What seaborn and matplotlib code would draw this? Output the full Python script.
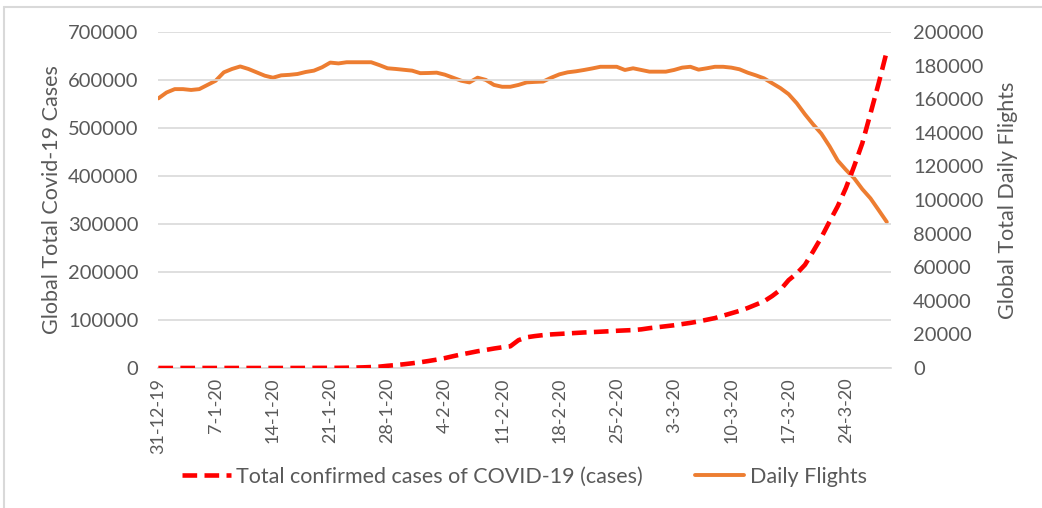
import numpy as np
import pandas as pd
import matplotlib
matplotlib.use('Agg')
import matplotlib.pyplot as plt
import seaborn as sns

# ---- data (one value per day, 31-12-19 .. 29-3-20)
dates = pd.date_range('2019-12-31', '2020-03-29', freq='D')

cases = [27, 27, 27, 44, 44, 59, 59, 59, 59, 59,
         59, 41, 41, 41, 41, 41, 45, 62, 121, 198,
         282, 282, 314, 581, 846, 1320, 2014, 2798, 4593, 6065,
         7818, 9826, 11953, 14557, 17391, 20630, 24554, 28276, 31481, 34886,
         37558, 40554, 43103, 45171, 58000, 64000, 66500, 68500, 70000, 71000,
         72000, 73000, 74000, 74800, 75600, 76500, 77500, 78300, 79000, 80500,
         83000, 85000, 87000, 89000, 91500, 94000, 97000, 100500, 104000, 109000,
         114000, 119000, 125000, 132000, 139000, 150000, 163000, 183000, 197000, 215000,
         243000, 272000, 305000, 337000, 375000, 420000, 468000, 530000, 593000, 660000]

flights = [160500, 164000, 166000, 166000, 165500, 166000, 168500, 171000, 176000, 178000,
           179500, 178000, 176000, 174000, 172800, 174200, 174500, 175000, 176200, 177000,
           179000, 181800, 181300, 182000, 182000, 182000, 182000, 180300, 178400, 178000,
           177500, 177000, 175500, 175600, 175800, 174600, 172800, 171000, 170000, 172800,
           171500, 168500, 167400, 167400, 168500, 170000, 170300, 170500, 172800, 174800,
           176000, 176600, 177400, 178300, 179300, 179300, 179300, 177400, 178400, 177400,
           176400, 176400, 176400, 177400, 178800, 179300, 177600, 178400, 179300, 179300,
           178800, 177800, 175800, 174200, 172400, 169500, 166600, 163000, 157600, 151000,
           145000, 139500, 132000, 123500, 118000, 113000, 106500, 101000, 94000, 86900]

tick_labels = ['31-12-19', '7-1-20', '14-1-20', '21-1-20', '28-1-20', '4-2-20', '11-2-20',
               '18-2-20', '25-2-20', '3-3-20', '10-3-20', '17-3-20', '24-3-20']

df = pd.DataFrame({'day': np.arange(len(dates)), 'cases': cases, 'flights': flights})

sns.set_style('white')
plt.rcParams['font.family'] = ['Lato', 'DejaVu Sans']
txt = '#595959'
grid = '#d9d9d9'

fig = plt.figure(figsize=(10.42, 5.08), dpi=100)
ax = fig.add_axes([0.1516, 0.2756, 0.7034, 0.6614])
ax2 = ax.twinx()

sns.lineplot(data=df, x='day', y='cases', ax=ax, color='#ff0000', lw=3.3,
             label='Total confirmed cases of COVID-19 (cases)', zorder=3)
ax.lines[0].set_dashes((3.2, 1.6))
sns.lineplot(data=df, x='day', y='flights', ax=ax2, color='#ed7d31', lw=2.8,
             label='Daily Flights', zorder=2)

ax.set_zorder(2)
ax.patch.set_visible(False)

ax.set_ylim(0, 700000)
ax.set_yticks(np.arange(0, 700001, 100000))
ax2.set_ylim(0, 200000)
ax2.set_yticks(np.arange(0, 200001, 20000))
ax.set_xlim(-0.05, 89.5)
ax.set_xticks(np.arange(0, 85, 7))
ax.set_xticklabels(tick_labels, rotation=90, fontsize=13, color=txt)

ax.yaxis.grid(True, color=grid, lw=1.2)
ax.set_axisbelow(True)
for a in (ax, ax2):
    for s in a.spines.values():
        s.set_visible(False)
ax.spines['bottom'].set_visible(True)
ax.spines['bottom'].set_color(grid)
ax.spines['bottom'].set_linewidth(1.2)

ax.tick_params(axis='y', length=0, labelsize=14.5, labelcolor=txt, pad=14)
ax2.tick_params(axis='y', length=0, labelsize=14.5, labelcolor=txt, pad=16)
ax.tick_params(axis='x', length=5, width=1.2, color=grid, pad=2)

ax.set_xlabel('')
ax.set_ylabel('Global Total Covid-19 Cases', fontsize=15.5, color=txt, labelpad=4)
ax2.set_ylabel('Global Total Daily Flights', fontsize=15.5, color=txt, labelpad=10)

h1, l1 = ax.get_legend_handles_labels()
h2, l2 = ax2.get_legend_handles_labels()
ax.get_legend().remove()
ax2.get_legend().remove()
fig.legend(h1 + h2, l1 + l2, loc='center', bbox_to_anchor=(0.503, 0.061), ncol=2,
           frameon=False, fontsize=15.5, labelcolor=txt, handlelength=2.3,
           handletextpad=0.25, columnspacing=2.4)

# light chart-area border (left and top)
fig.add_artist(plt.Line2D([0.004, 0.004], [0.0, 0.986], color='#d9d9d9', lw=1.5))
fig.add_artist(plt.Line2D([0.004, 1.0], [0.986, 0.986], color='#d9d9d9', lw=1.5))

fig.savefig('out.png', dpi=100)
